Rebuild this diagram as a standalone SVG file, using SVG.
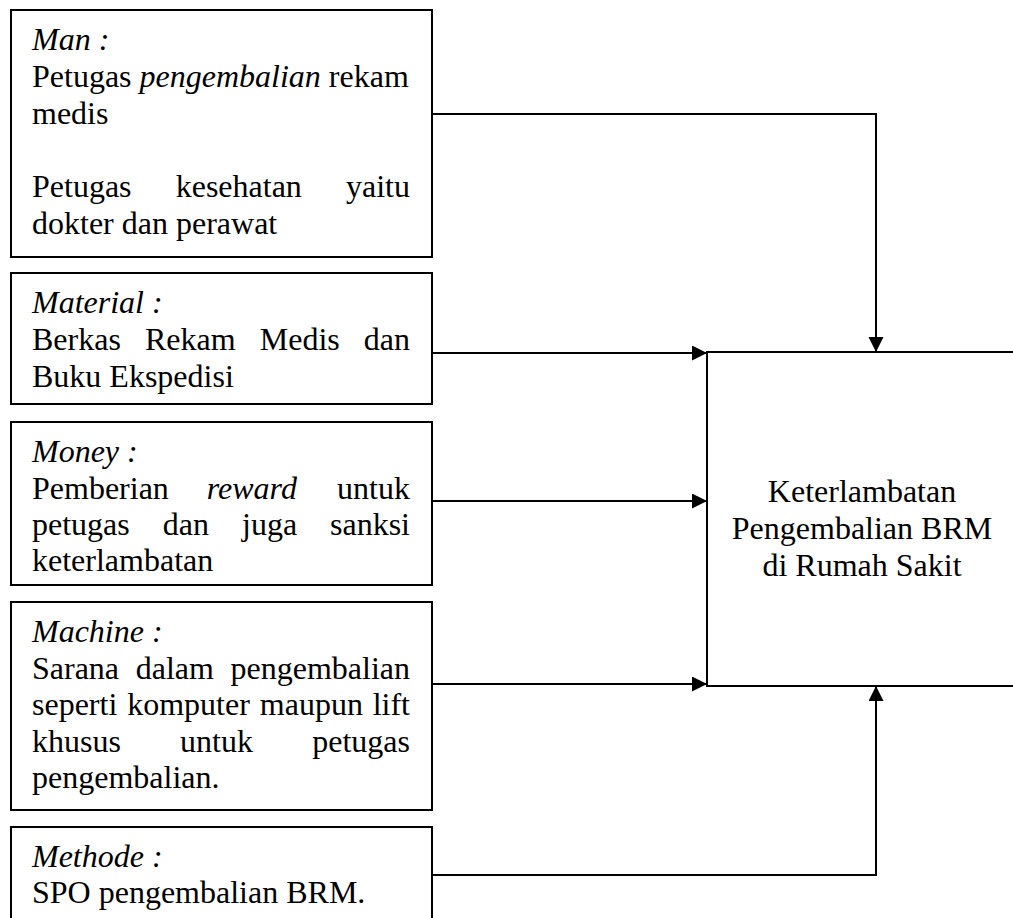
<svg xmlns="http://www.w3.org/2000/svg" width="1013" height="918" viewBox="0 0 1013 918">
<style>
.box{fill:#fff;stroke:#000;stroke-width:2}
.t{font-family:"Liberation Serif","Times New Roman",serif;font-size:32px;fill:#000}
.i{font-style:italic}
.c{text-anchor:middle}
.ln{fill:none;stroke:#000;stroke-width:2;marker-end:url(#arr)}
</style>
<defs>
<marker id="arr" markerUnits="userSpaceOnUse" markerWidth="16" markerHeight="16" refX="15" refY="7.5" orient="auto">
<path d="M0,0 L15,7.5 L0,15 z" fill="#000"/>
</marker>
</defs>
<rect width="1013" height="918" fill="#fff"/>
<g id="connectors">
<path class="ln" d="M432,114 H876 V352"/>
<path class="ln" d="M432,353 H707"/>
<path class="ln" d="M432,501 H707"/>
<path class="ln" d="M432,684 H707"/>
<path class="ln" d="M432,875 H876 V686"/>
</g>
<g id="man">
<rect class="box" x="11" y="10" width="421" height="247"/>
<text class="t i" x="32" y="50">Man :</text>
<text class="t" x="32" y="87">Petugas <tspan class="i">pengembalian</tspan> rekam</text>
<text class="t" x="32" y="124">medis</text>
<text class="t" y="197"><tspan x="32">Petugas</tspan><tspan x="175.7">kesehatan</tspan><tspan x="410" text-anchor="end">yaitu</tspan></text>
<text class="t" x="32" y="234">dokter dan perawat</text>
</g>
<g id="material">
<rect class="box" x="11" y="273" width="421" height="131"/>
<text class="t i" x="32" y="313">Material :</text>
<text class="t" y="350"><tspan x="32">Berkas</tspan><tspan x="145">Rekam</tspan><tspan x="259.8">Medis</tspan><tspan x="410" text-anchor="end">dan</tspan></text>
<text class="t" x="32" y="387">Buku Ekspedisi</text>
</g>
<g id="money">
<rect class="box" x="11" y="422" width="421" height="163"/>
<text class="t i" x="32" y="462">Money :</text>
<text class="t" y="499"><tspan x="32">Pemberian</tspan><tspan x="206.8" font-style="italic">reward</tspan><tspan x="410" text-anchor="end">untuk</tspan></text>
<text class="t" y="535"><tspan x="32">petugas</tspan><tspan x="162.8">dan</tspan><tspan x="242">juga</tspan><tspan x="410" text-anchor="end">sanksi</tspan></text>
<text class="t" x="32" y="571">keterlambatan</text>
</g>
<g id="machine">
<rect class="box" x="11" y="602" width="421" height="208"/>
<text class="t i" x="32" y="642">Machine :</text>
<text class="t" y="679"><tspan x="32">Sarana</tspan><tspan x="135.7">dalam</tspan><tspan x="410" text-anchor="end">pengembalian</tspan></text>
<text class="t" y="715"><tspan x="32">seperti</tspan><tspan x="127.2">komputer</tspan><tspan x="259.8">maupun</tspan><tspan x="410" text-anchor="end">lift</tspan></text>
<text class="t" y="752"><tspan x="32">khusus</tspan><tspan x="180.1">untuk</tspan><tspan x="410" text-anchor="end">petugas</tspan></text>
<text class="t" x="32" y="788">pengembalian.</text>
</g>
<g id="methode">
<rect class="box" x="11" y="827" width="421" height="120"/>
<text class="t i" x="32" y="867">Methode :</text>
<text class="t" x="32" y="903">SPO pengembalian BRM.</text>
</g>
<g id="result">
<path d="M1015,352 H707 V686 H1015" fill="#fff" stroke="#000" stroke-width="2"/>
<text class="t c" x="862" y="502">Keterlambatan</text>
<text class="t c" x="862" y="539">Pengembalian BRM</text>
<text class="t c" x="862" y="576">di Rumah Sakit</text>
</g>
</svg>
